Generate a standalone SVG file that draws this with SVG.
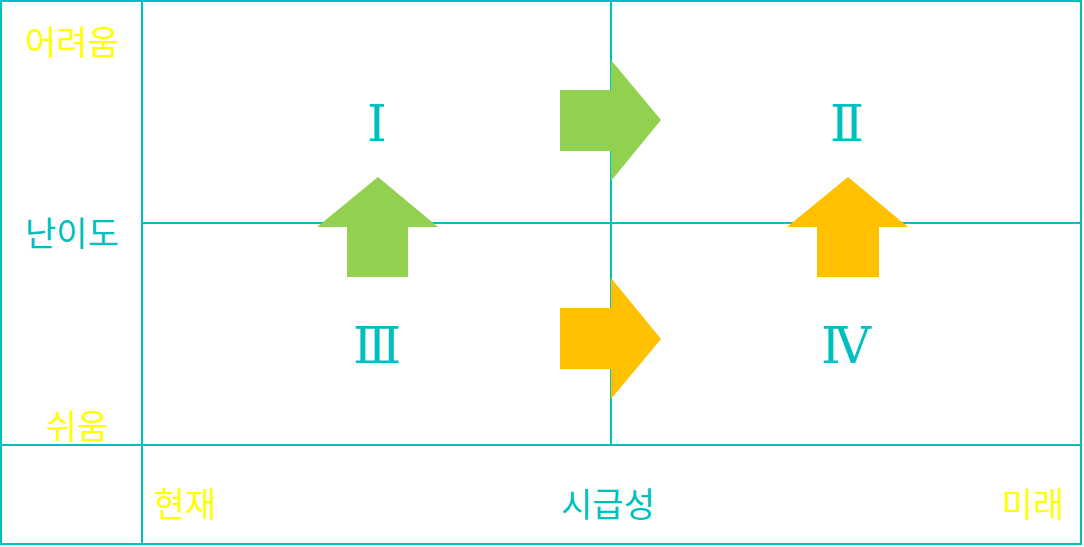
<svg xmlns="http://www.w3.org/2000/svg" width="1084" height="547" viewBox="0 0 1084 547">
<style>
.ln{stroke:#00BFBF;stroke-width:2;fill:none}
.t{font-family:"Noto Sans CJK KR","Noto Sans",sans-serif;font-size:34px;dominant-baseline:central;text-anchor:middle}
.c{fill:#00BFBF}
.y{fill:#FFFF00}
.r{font-family:"DejaVu Serif","Liberation Serif",serif;font-size:50px;dominant-baseline:central;text-anchor:middle;fill:#00BFBF}
.g{fill:#92D050}
.o{fill:#FFC000}
</style>
<rect width="1084" height="547" fill="#FFFFFF"/>
<g id="grid">
<rect class="ln" x="1" y="1" width="1080" height="543"/>
<line class="ln" x1="142" y1="1" x2="142" y2="544"/>
<line class="ln" x1="1" y1="445" x2="1081" y2="445"/>
<line class="ln" x1="611" y1="1" x2="611" y2="445"/>
<line class="ln" x1="142" y1="223" x2="1081" y2="223"/>
</g>
<g id="axis-labels">
<text class="t y" x="72" y="40">어려움</text>
<text class="t c" x="72" y="231">난이도</text>
<text class="t y" x="77" y="424">쉬움</text>
<text class="t y" x="185" y="502">현재</text>
<text class="t c" x="608" y="502">시급성</text>
<text class="t y" x="1033" y="502">미래</text>
</g>
<g id="q1"><text class="r" x="377" y="124">Ⅰ</text></g>
<g id="q2"><text class="r" x="847" y="124">Ⅱ</text></g>
<g id="q3"><text class="r" x="377" y="346">Ⅲ</text></g>
<g id="q4"><text class="r" x="846" y="346">Ⅳ</text></g>
<g id="connectors">
<polygon class="g" points="560,90 611,90 611,60 661,120 611,181 611,151 560,151"/>
<polygon class="o" points="560,308 611,308 611,278 661,339 611,399 611,369 560,369"/>
<polygon class="g" points="378,177 438,227 408,227 408,277 347,277 347,227 317,227"/>
<polygon class="o" points="848,177 908,227 879,227 879,277 817,277 817,227 787,227"/>
</g>
</svg>
